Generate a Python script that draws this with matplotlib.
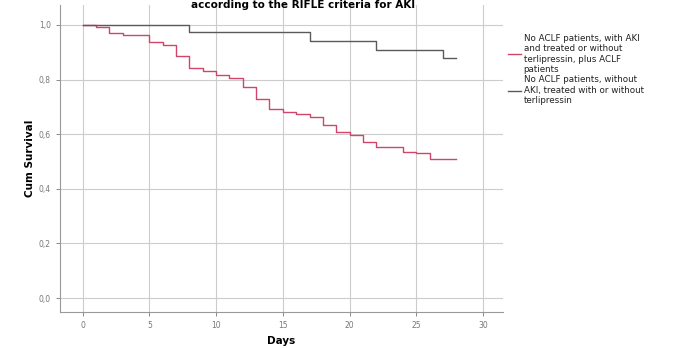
import matplotlib
matplotlib.use("Agg")
import matplotlib.pyplot as plt

# survival steps (day, survival after that day)
aki_days = [0, 1, 2, 3, 5, 6, 7, 8, 9, 10, 11, 12, 13, 14, 15, 16, 17, 18, 19, 20, 21, 22, 24, 25, 26, 28]
aki_surv = [1.0, 0.993, 0.970, 0.963, 0.937, 0.927, 0.885, 0.844, 0.833, 0.815, 0.807, 0.772, 0.729,
            0.691, 0.682, 0.674, 0.662, 0.634, 0.607, 0.597, 0.570, 0.554, 0.536, 0.530, 0.509, 0.509]

noaki_days = [0, 8, 17, 22, 27, 28]
noaki_surv = [1.0, 0.973, 0.943, 0.910, 0.878, 0.878]

labels = [
    "No ACLF patients, with AKI\nand treated or without\nterlipressin, plus ACLF\npatients",
    "No ACLF patients, without\nAKI, treated with or without\nterlipressin",
]
colors = ["#d2456a", "#5a5a5a"]

x_ticks = [0, 5, 10, 15, 20, 25, 30]
y_ticks = [0.0, 0.2, 0.4, 0.6, 0.8, 1.0]
y_tick_labels = ["0,0", "0,2", "0,4", "0,6", "0,8", "1,0"]

fig = plt.figure(figsize=(6.76, 3.48), dpi=100)
ax = fig.add_axes([60 / 676, 1 - 312 / 348, (503 - 60) / 676, (312 - 5) / 348])

ax.step(aki_days, aki_surv, where="post", color=colors[0], linewidth=1.0, label=labels[0])
ax.step(noaki_days, noaki_surv, where="post", color=colors[1], linewidth=1.0, label=labels[1])

ax.set_xlim(-1.7, 31.5)
ax.set_ylim(-0.051, 1.073)
ax.set_xticks(x_ticks)
ax.set_yticks(y_ticks)
ax.set_yticklabels(y_tick_labels)
ax.tick_params(axis="both", labelsize=5.5, colors="#777777", length=3, width=0.6)
ax.grid(True, color="#cccccc", linewidth=0.8)
ax.set_axisbelow(True)
for side in ["top", "right"]:
    ax.spines[side].set_visible(False)
for side in ["left", "bottom"]:
    ax.spines[side].set_color("#999999")
    ax.spines[side].set_linewidth(0.8)

ax.set_xlabel("Days", fontsize=7.5, fontweight="bold", labelpad=4)
ax.set_ylabel("Cum Survival", fontsize=7.5, fontweight="bold", labelpad=3)

fig.text(303 / 676, 1.0, "according to the RIFLE criteria for AKI",
         ha="center", va="top", fontsize=7.5, fontweight="bold")

fig.legend(loc="upper left", bbox_to_anchor=(500 / 676, 1 - 26 / 348), frameon=False,
           fontsize=6.3, handlelength=1.5, handletextpad=0.3, labelspacing=0.15,
           labelcolor="#222222")

plt.savefig("out.png", dpi=100)
plt.close()
